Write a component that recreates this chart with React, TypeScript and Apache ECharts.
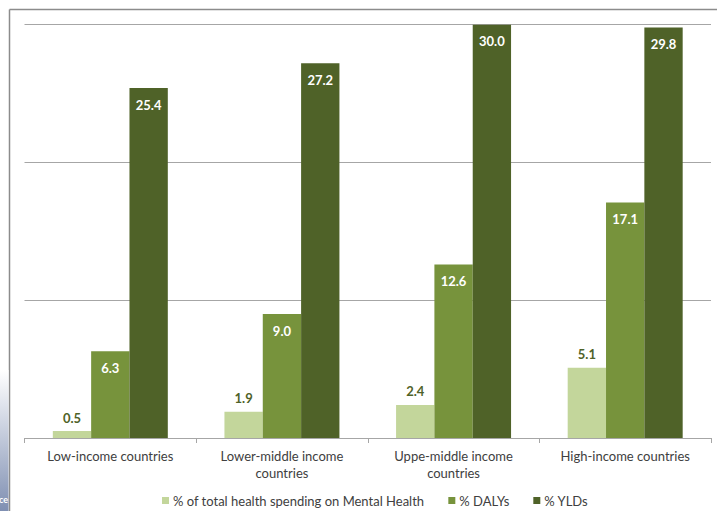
import React, { useEffect, useRef } from "react";
import * as echarts from "echarts";

const categories = [
  "Low-income countries",
  "Lower-middle income\ncountries",
  "Uppe-middle income\ncountries",
  "High-income countries",
];
const spendingShare = [0.5, 1.9, 2.4, 5.1];
const dalysShare = [6.3, 9.0, 12.6, 17.1];
const yldsShare = [25.4, 27.2, 30.0, 29.8];
const seriesNames = [
  "% of total health spending on Mental Health",
  "% DALYs",
  "% YLDs",
];

const FONT = "Lato, 'Open Sans', sans-serif";
const COLORS = ["#c3d69b", "#77933c", "#4f6228"];

export default function App() {
  const ref = useRef<HTMLDivElement>(null);

  useEffect(() => {
    if (!ref.current) return;
    const chart = echarts.init(ref.current, undefined, { renderer: "svg" });

    const insideLabel = {
      show: true,
      position: "insideTop" as const,
      distance: 10,
      color: "#ffffff",
      fontFamily: FONT,
      fontWeight: "bold" as const,
      fontSize: 13,
      formatter: (p: any) => Number(p.value).toFixed(1),
    };

    chart.setOption({
      animation: false,
      backgroundColor: "#ffffff",
      textStyle: { fontFamily: FONT },
      grid: { left: 24.5, right: 6, top: 24.7, bottom: 73 },
      legend: {
        top: 489,
        left: 157,
        itemWidth: 7,
        itemHeight: 7,
        itemGap: 24,
        icon: "rect",
        textStyle: { fontFamily: FONT, fontSize: 13, color: "#404040", padding: [0, 0, 0, -1] },
        data: seriesNames,
      },
      xAxis: {
        type: "category",
        data: categories,
        axisLine: { lineStyle: { color: "#a6a6a6", width: 1 } },
        axisTick: { show: true, length: 5, alignWithLabel: false, lineStyle: { color: "#a6a6a6" } },
        axisLabel: {
          fontFamily: FONT,
          fontSize: 13,
          color: "#404040",
          margin: 9,
          lineHeight: 17,
          interval: 0,
        },
      },
      yAxis: {
        type: "value",
        min: 0,
        max: 30,
        interval: 10,
        axisLabel: { show: false },
        axisLine: { show: false },
        axisTick: { show: false },
        splitLine: { lineStyle: { color: "#a6a6a6", width: 1 } },
      },
      series: [
        {
          name: seriesNames[0],
          type: "bar",
          data: spendingShare,
          itemStyle: { color: COLORS[0] },
          barGap: "0%",
          barCategoryGap: "33%",
          label: {
            show: true,
            position: "top",
            distance: 7,
            color: "#4f6228",
            fontFamily: FONT,
            fontWeight: "bold",
            fontSize: 13,
            formatter: (p: any) => Number(p.value).toFixed(1),
          },
        },
        {
          name: seriesNames[1],
          type: "bar",
          data: dalysShare,
          itemStyle: { color: COLORS[1] },
          barGap: "0%",
          barCategoryGap: "33%",
          label: insideLabel,
        },
        {
          name: seriesNames[2],
          type: "bar",
          data: yldsShare,
          itemStyle: { color: COLORS[2] },
          barGap: "0%",
          barCategoryGap: "33%",
          label: insideLabel,
        },
      ],
      graphic: [
        // slide frame edges
        {
          type: "line",
          shape: { x1: 9.5, y1: 9.5, x2: 717, y2: 9.5 },
          style: { stroke: "#8c8c8c", lineWidth: 1.5 },
          silent: true,
        },
        {
          type: "line",
          shape: { x1: 9.5, y1: 9.5, x2: 9.5, y2: 511 },
          style: { stroke: "#8c8c8c", lineWidth: 1.5 },
          silent: true,
        },
        // blue side strip
        {
          type: "rect",
          shape: { x: 0, y: 370, width: 8.5, height: 141 },
          style: {
            fill: new echarts.graphic.LinearGradient(0, 0, 0, 1, [
              { offset: 0, color: "#ffffff" },
              { offset: 1, color: "#7f8fb2" },
            ]),
          },
          silent: true,
        },
        {
          type: "text",
          x: -1,
          y: 495,
          style: {
            text: "ce",
            fill: "#ffffff",
            font: "bold 9px " + FONT,
          },
          silent: true,
        },
      ],
    });

    return () => chart.dispose();
  }, []);

  return (
    <div
      ref={ref}
      style={{ position: "fixed", left: 0, top: 0, width: 717, height: 511 }}
    />
  );
}
